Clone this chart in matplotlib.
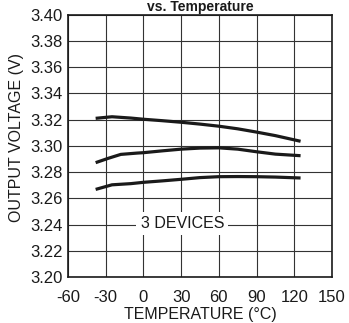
import matplotlib.pyplot as plt

plt.rcParams['font.family'] = ['Liberation Sans', 'DejaVu Sans']
plt.rcParams['axes.unicode_minus'] = False

# Data
temp_top = [-38, -25, -10, 0, 15, 30, 45, 60, 75, 90, 105, 125]
volt_top = [3.321, 3.3222, 3.3212, 3.3203, 3.3192, 3.318, 3.3166, 3.315, 3.313, 3.3105, 3.3078, 3.3035]

temp_mid = [-38, -28, -18, -5, 0, 15, 30, 45, 60, 75, 90, 105, 125]
volt_mid = [3.2872, 3.2905, 3.2935, 3.2945, 3.2948, 3.2962, 3.2975, 3.2983, 3.2985, 3.2975, 3.2955, 3.2937, 3.2925]

temp_bot = [-38, -25, -10, 0, 15, 30, 45, 60, 75, 90, 105, 125]
volt_bot = [3.2668, 3.2703, 3.2712, 3.2722, 3.2733, 3.2745, 3.2758, 3.2765, 3.2766, 3.2765, 3.2762, 3.2755]

x_ticks = [-60, -30, 0, 30, 60, 90, 120, 150]
y_ticks = [3.20, 3.22, 3.24, 3.26, 3.28, 3.30, 3.32, 3.34, 3.36, 3.38, 3.40]

fig = plt.figure(figsize=(3.49, 3.23), dpi=100)
ax = fig.add_axes([0.1948, 0.1424, 0.7565, 0.812])

for t, v in [(temp_top, volt_top), (temp_mid, volt_mid), (temp_bot, volt_bot)]:
    ax.plot(t, v, color='#1a1a1a', linewidth=2.3, solid_capstyle='butt', zorder=3)

ax.set_xlim(-60, 150)
ax.set_ylim(3.20, 3.40)
ax.set_xticks(x_ticks)
ax.set_yticks(y_ticks)
ax.set_yticklabels([f"{v:.2f}" for v in y_ticks])
ax.grid(True, color='#333333', linewidth=0.8)
ax.tick_params(length=0, labelsize=12, colors='#1a1a1a')
ax.tick_params(axis='x', pad=9)
ax.tick_params(axis='y', pad=4)
for s in ax.spines.values():
    s.set_linewidth(1.2)
    s.set_color('#1a1a1a')

ax.set_xlabel("TEMPERATURE (°C)", fontsize=11.5, color='#1a1a1a', labelpad=2)
ax.set_ylabel("OUTPUT VOLTAGE (V)", fontsize=11.5, color='#1a1a1a')
ax.yaxis.set_label_coords(-0.165, 0.532)

ax.text(31, 3.241, "3 DEVICES", fontsize=11.5, ha='center', va='center', color='#1a1a1a',
        bbox=dict(facecolor='white', edgecolor='none', pad=3), zorder=4)

fig.text(0.573, 1.0 - 10.5 / 323, "vs. Temperature", fontsize=10, fontweight='bold',
         ha='center', va='baseline', color='#1a1a1a')

fig.savefig("out.png", dpi=100)
